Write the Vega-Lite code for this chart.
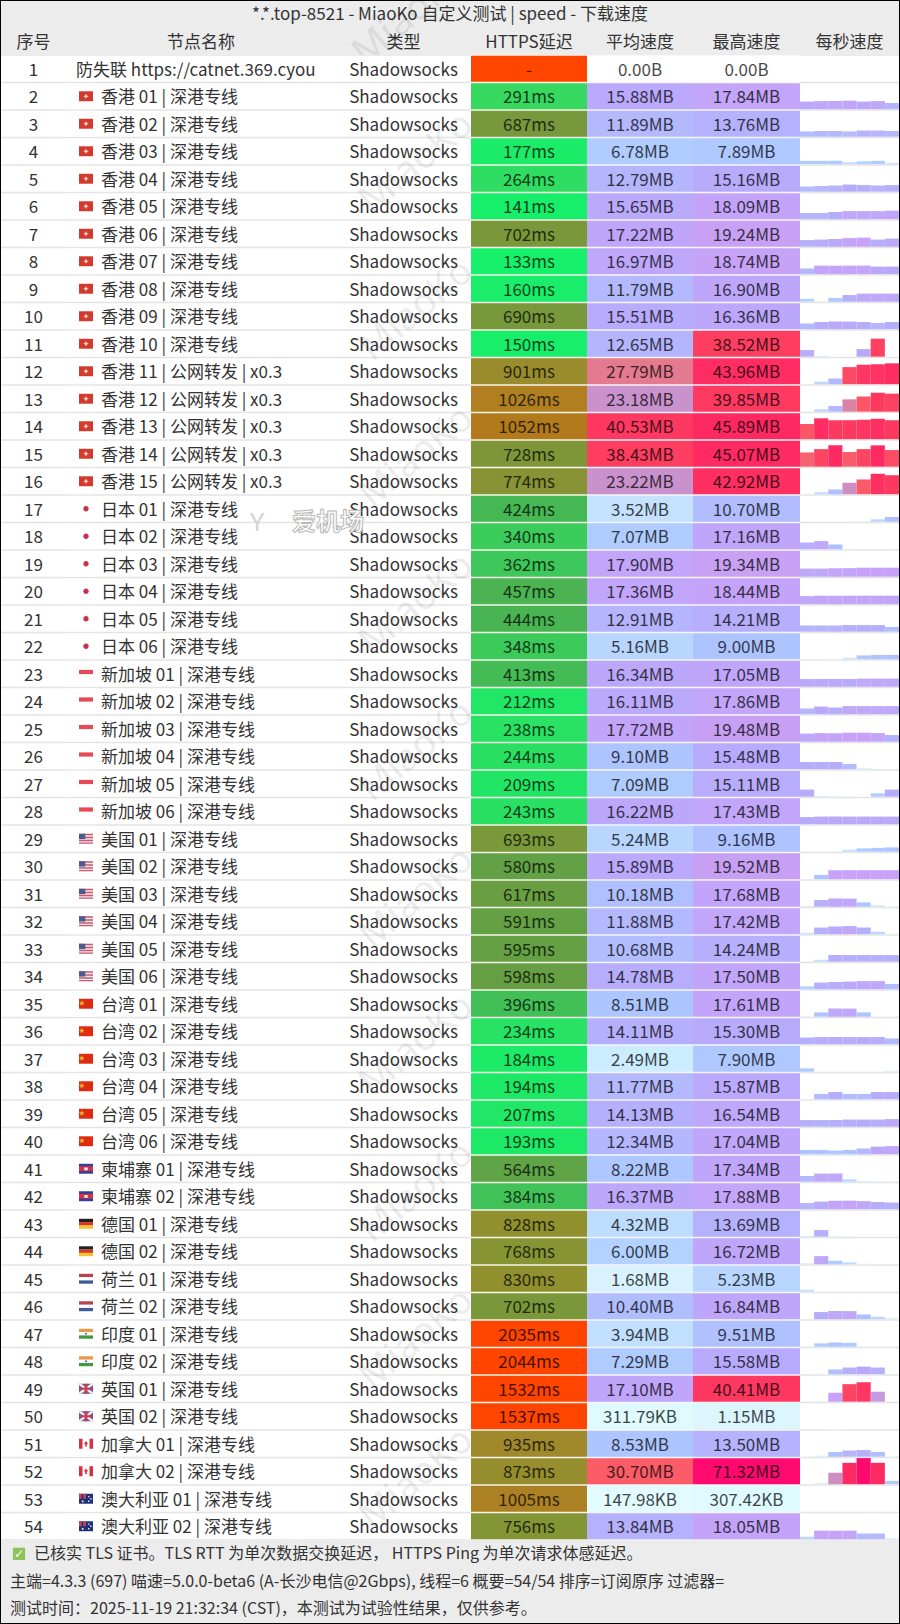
{
"$schema":"https://vega.github.io/schema/vega-lite/v6.json",
"background":"#000000",
"padding":1,
"spacing":0,
"config":{"font":"Noto Sans CJK SC","view":{"stroke":null},"concat":{"spacing":0},"text":{"fontSize":17,"color":"#333333"}},
"datasets":{
"rows":[
{"r":1,"n":"防失联 https://catnet.369.cyou","c":null,"ms":null,"a":0,"al":"0.00B","m":0,"ml":"0.00B"},
{"r":2,"n":"香港 01 | 深港专线","c":"hk","ms":291,"a":15.88,"al":"15.88MB","m":17.84,"ml":"17.84MB"},
{"r":3,"n":"香港 02 | 深港专线","c":"hk","ms":687,"a":11.89,"al":"11.89MB","m":13.76,"ml":"13.76MB"},
{"r":4,"n":"香港 03 | 深港专线","c":"hk","ms":177,"a":6.78,"al":"6.78MB","m":7.89,"ml":"7.89MB"},
{"r":5,"n":"香港 04 | 深港专线","c":"hk","ms":264,"a":12.79,"al":"12.79MB","m":15.16,"ml":"15.16MB"},
{"r":6,"n":"香港 05 | 深港专线","c":"hk","ms":141,"a":15.65,"al":"15.65MB","m":18.09,"ml":"18.09MB"},
{"r":7,"n":"香港 06 | 深港专线","c":"hk","ms":702,"a":17.22,"al":"17.22MB","m":19.24,"ml":"19.24MB"},
{"r":8,"n":"香港 07 | 深港专线","c":"hk","ms":133,"a":16.97,"al":"16.97MB","m":18.74,"ml":"18.74MB"},
{"r":9,"n":"香港 08 | 深港专线","c":"hk","ms":160,"a":11.79,"al":"11.79MB","m":16.9,"ml":"16.90MB"},
{"r":10,"n":"香港 09 | 深港专线","c":"hk","ms":690,"a":15.51,"al":"15.51MB","m":16.36,"ml":"16.36MB"},
{"r":11,"n":"香港 10 | 深港专线","c":"hk","ms":150,"a":12.65,"al":"12.65MB","m":38.52,"ml":"38.52MB"},
{"r":12,"n":"香港 11 | 公网转发 | x0.3","c":"hk","ms":901,"a":27.79,"al":"27.79MB","m":43.96,"ml":"43.96MB"},
{"r":13,"n":"香港 12 | 公网转发 | x0.3","c":"hk","ms":1026,"a":23.18,"al":"23.18MB","m":39.85,"ml":"39.85MB"},
{"r":14,"n":"香港 13 | 公网转发 | x0.3","c":"hk","ms":1052,"a":40.53,"al":"40.53MB","m":45.89,"ml":"45.89MB"},
{"r":15,"n":"香港 14 | 公网转发 | x0.3","c":"hk","ms":728,"a":38.43,"al":"38.43MB","m":45.07,"ml":"45.07MB"},
{"r":16,"n":"香港 15 | 公网转发 | x0.3","c":"hk","ms":774,"a":23.22,"al":"23.22MB","m":42.92,"ml":"42.92MB"},
{"r":17,"n":"日本 01 | 深港专线","c":"jp","ms":424,"a":3.52,"al":"3.52MB","m":10.7,"ml":"10.70MB"},
{"r":18,"n":"日本 02 | 深港专线","c":"jp","ms":340,"a":7.07,"al":"7.07MB","m":17.16,"ml":"17.16MB"},
{"r":19,"n":"日本 03 | 深港专线","c":"jp","ms":362,"a":17.9,"al":"17.90MB","m":19.34,"ml":"19.34MB"},
{"r":20,"n":"日本 04 | 深港专线","c":"jp","ms":457,"a":17.36,"al":"17.36MB","m":18.44,"ml":"18.44MB"},
{"r":21,"n":"日本 05 | 深港专线","c":"jp","ms":444,"a":12.91,"al":"12.91MB","m":14.21,"ml":"14.21MB"},
{"r":22,"n":"日本 06 | 深港专线","c":"jp","ms":348,"a":5.16,"al":"5.16MB","m":9,"ml":"9.00MB"},
{"r":23,"n":"新加坡 01 | 深港专线","c":"sg","ms":413,"a":16.34,"al":"16.34MB","m":17.05,"ml":"17.05MB"},
{"r":24,"n":"新加坡 02 | 深港专线","c":"sg","ms":212,"a":16.11,"al":"16.11MB","m":17.86,"ml":"17.86MB"},
{"r":25,"n":"新加坡 03 | 深港专线","c":"sg","ms":238,"a":17.72,"al":"17.72MB","m":19.48,"ml":"19.48MB"},
{"r":26,"n":"新加坡 04 | 深港专线","c":"sg","ms":244,"a":9.1,"al":"9.10MB","m":15.48,"ml":"15.48MB"},
{"r":27,"n":"新加坡 05 | 深港专线","c":"sg","ms":209,"a":7.09,"al":"7.09MB","m":15.11,"ml":"15.11MB"},
{"r":28,"n":"新加坡 06 | 深港专线","c":"sg","ms":243,"a":16.22,"al":"16.22MB","m":17.43,"ml":"17.43MB"},
{"r":29,"n":"美国 01 | 深港专线","c":"us","ms":693,"a":5.24,"al":"5.24MB","m":9.16,"ml":"9.16MB"},
{"r":30,"n":"美国 02 | 深港专线","c":"us","ms":580,"a":15.89,"al":"15.89MB","m":19.52,"ml":"19.52MB"},
{"r":31,"n":"美国 03 | 深港专线","c":"us","ms":617,"a":10.18,"al":"10.18MB","m":17.68,"ml":"17.68MB"},
{"r":32,"n":"美国 04 | 深港专线","c":"us","ms":591,"a":11.88,"al":"11.88MB","m":17.42,"ml":"17.42MB"},
{"r":33,"n":"美国 05 | 深港专线","c":"us","ms":595,"a":10.68,"al":"10.68MB","m":14.24,"ml":"14.24MB"},
{"r":34,"n":"美国 06 | 深港专线","c":"us","ms":598,"a":14.78,"al":"14.78MB","m":17.5,"ml":"17.50MB"},
{"r":35,"n":"台湾 01 | 深港专线","c":"tw","ms":396,"a":8.51,"al":"8.51MB","m":17.61,"ml":"17.61MB"},
{"r":36,"n":"台湾 02 | 深港专线","c":"tw","ms":234,"a":14.11,"al":"14.11MB","m":15.3,"ml":"15.30MB"},
{"r":37,"n":"台湾 03 | 深港专线","c":"tw","ms":184,"a":2.49,"al":"2.49MB","m":7.9,"ml":"7.90MB"},
{"r":38,"n":"台湾 04 | 深港专线","c":"tw","ms":194,"a":11.77,"al":"11.77MB","m":15.87,"ml":"15.87MB"},
{"r":39,"n":"台湾 05 | 深港专线","c":"tw","ms":207,"a":14.13,"al":"14.13MB","m":16.54,"ml":"16.54MB"},
{"r":40,"n":"台湾 06 | 深港专线","c":"tw","ms":193,"a":12.34,"al":"12.34MB","m":17.04,"ml":"17.04MB"},
{"r":41,"n":"柬埔寨 01 | 深港专线","c":"kh","ms":564,"a":8.22,"al":"8.22MB","m":17.34,"ml":"17.34MB"},
{"r":42,"n":"柬埔寨 02 | 深港专线","c":"kh","ms":384,"a":16.37,"al":"16.37MB","m":17.88,"ml":"17.88MB"},
{"r":43,"n":"德国 01 | 深港专线","c":"de","ms":828,"a":4.32,"al":"4.32MB","m":13.69,"ml":"13.69MB"},
{"r":44,"n":"德国 02 | 深港专线","c":"de","ms":768,"a":6,"al":"6.00MB","m":16.72,"ml":"16.72MB"},
{"r":45,"n":"荷兰 01 | 深港专线","c":"nl","ms":830,"a":1.68,"al":"1.68MB","m":5.23,"ml":"5.23MB"},
{"r":46,"n":"荷兰 02 | 深港专线","c":"nl","ms":702,"a":10.4,"al":"10.40MB","m":16.84,"ml":"16.84MB"},
{"r":47,"n":"印度 01 | 深港专线","c":"in","ms":2035,"a":3.94,"al":"3.94MB","m":9.51,"ml":"9.51MB"},
{"r":48,"n":"印度 02 | 深港专线","c":"in","ms":2044,"a":7.29,"al":"7.29MB","m":15.58,"ml":"15.58MB"},
{"r":49,"n":"英国 01 | 深港专线","c":"gb","ms":1532,"a":17.1,"al":"17.10MB","m":40.41,"ml":"40.41MB"},
{"r":50,"n":"英国 02 | 深港专线","c":"gb","ms":1537,"a":0.3,"al":"311.79KB","m":1.15,"ml":"1.15MB"},
{"r":51,"n":"加拿大 01 | 深港专线","c":"ca","ms":935,"a":8.53,"al":"8.53MB","m":13.5,"ml":"13.50MB"},
{"r":52,"n":"加拿大 02 | 深港专线","c":"ca","ms":873,"a":30.7,"al":"30.70MB","m":71.32,"ml":"71.32MB"},
{"r":53,"n":"澳大利亚 01 | 深港专线","c":"au","ms":1005,"a":0.14,"al":"147.98KB","m":0.3,"ml":"307.42KB"},
{"r":54,"n":"澳大利亚 02 | 深港专线","c":"au","ms":756,"a":13.84,"al":"13.84MB","m":18.05,"ml":"18.05MB"}
],
"flags":[
{"c":"hk","parts":["hkbase","hkstar"]},
{"c":"jp","parts":["jpdot"]},
{"c":"sg","parts":["sgtop"]},
{"c":"us","parts":["usbase","usstripes","uscanton"]},
{"c":"tw","parts":["cnbase","cnstar"]},
{"c":"kh","parts":["khbase","khred","khwhite"]},
{"c":"de","parts":["deblack","dered","deyellow"]},
{"c":"nl","parts":["nlred","nlblue"]},
{"c":"in","parts":["inorange","ingreen","inwheel"]},
{"c":"gb","parts":["gbbase","gbdiag","gbcross"]},
{"c":"ca","parts":["casides","caleaf"]},
{"c":"au","parts":["aubase","auunion","austars"]}
],
"bars":[
{"r":1,"t":1,"v":0},{"r":1,"t":2,"v":0},{"r":1,"t":3,"v":0},{"r":1,"t":4,"v":0},{"r":1,"t":5,"v":0},{"r":1,"t":6,"v":0},{"r":1,"t":7,"v":0},
{"r":2,"t":1,"v":16},{"r":2,"t":2,"v":17},{"r":2,"t":3,"v":17},{"r":2,"t":4,"v":18},{"r":2,"t":5,"v":16},{"r":2,"t":6,"v":17},{"r":2,"t":7,"v":13},
{"r":3,"t":1,"v":11},{"r":3,"t":2,"v":12},{"r":3,"t":3,"v":12},{"r":3,"t":4,"v":11},{"r":3,"t":5,"v":13},{"r":3,"t":6,"v":13},{"r":3,"t":7,"v":12},
{"r":4,"t":1,"v":7},{"r":4,"t":2,"v":7},{"r":4,"t":3,"v":7},{"r":4,"t":4,"v":4},{"r":4,"t":5,"v":6},{"r":4,"t":6,"v":7},{"r":4,"t":7,"v":3},
{"r":5,"t":1,"v":11},{"r":5,"t":2,"v":12},{"r":5,"t":3,"v":13},{"r":5,"t":4,"v":15},{"r":5,"t":5,"v":14},{"r":5,"t":6,"v":13},{"r":5,"t":7,"v":14},
{"r":6,"t":1,"v":13},{"r":6,"t":2,"v":13},{"r":6,"t":3,"v":15},{"r":6,"t":4,"v":17},{"r":6,"t":5,"v":17},{"r":6,"t":6,"v":17},{"r":6,"t":7,"v":18},
{"r":7,"t":1,"v":14},{"r":7,"t":2,"v":15},{"r":7,"t":3,"v":16},{"r":7,"t":4,"v":18},{"r":7,"t":5,"v":19},{"r":7,"t":6,"v":15},{"r":7,"t":7,"v":17},
{"r":8,"t":1,"v":12},{"r":8,"t":2,"v":18},{"r":8,"t":3,"v":18},{"r":8,"t":4,"v":18},{"r":8,"t":5,"v":18},{"r":8,"t":6,"v":16},{"r":8,"t":7,"v":16},
{"r":9,"t":1,"v":6},{"r":9,"t":2,"v":0.5},{"r":9,"t":3,"v":8},{"r":9,"t":4,"v":14},{"r":9,"t":5,"v":17},{"r":9,"t":6,"v":17},{"r":9,"t":7,"v":17},
{"r":10,"t":1,"v":12},{"r":10,"t":2,"v":15},{"r":10,"t":3,"v":16},{"r":10,"t":4,"v":16},{"r":10,"t":5,"v":15},{"r":10,"t":6,"v":13},{"r":10,"t":7,"v":15},
{"r":11,"t":1,"v":14},{"r":11,"t":2,"v":2},{"r":11,"t":3,"v":0.3},{"r":11,"t":4,"v":0.2},{"r":11,"t":5,"v":16},{"r":11,"t":6,"v":38},{"r":11,"t":7,"v":0},
{"r":12,"t":1,"v":0.5},{"r":12,"t":2,"v":5},{"r":12,"t":3,"v":12},{"r":12,"t":4,"v":36},{"r":12,"t":5,"v":41},{"r":12,"t":6,"v":42},{"r":12,"t":7,"v":44},
{"r":13,"t":1,"v":0.5},{"r":13,"t":2,"v":5},{"r":13,"t":3,"v":12},{"r":13,"t":4,"v":26},{"r":13,"t":5,"v":32},{"r":13,"t":6,"v":40},{"r":13,"t":7,"v":38},
{"r":14,"t":1,"v":32},{"r":14,"t":2,"v":44},{"r":14,"t":3,"v":40},{"r":14,"t":4,"v":40},{"r":14,"t":5,"v":41},{"r":14,"t":6,"v":43},{"r":14,"t":7,"v":40},
{"r":15,"t":1,"v":30},{"r":15,"t":2,"v":37},{"r":15,"t":3,"v":45},{"r":15,"t":4,"v":31},{"r":15,"t":5,"v":37},{"r":15,"t":6,"v":45},{"r":15,"t":7,"v":35},
{"r":16,"t":1,"v":0.5},{"r":16,"t":2,"v":4},{"r":16,"t":3,"v":10},{"r":16,"t":4,"v":24},{"r":16,"t":5,"v":31},{"r":16,"t":6,"v":43},{"r":16,"t":7,"v":40},
{"r":17,"t":1,"v":0},{"r":17,"t":2,"v":0},{"r":17,"t":3,"v":0},{"r":17,"t":4,"v":0.5},{"r":17,"t":5,"v":0.5},{"r":17,"t":6,"v":5},{"r":17,"t":7,"v":10},
{"r":18,"t":1,"v":14},{"r":18,"t":2,"v":17},{"r":18,"t":3,"v":10},{"r":18,"t":4,"v":0.5},{"r":18,"t":5,"v":0.2},{"r":18,"t":6,"v":0},{"r":18,"t":7,"v":0.5},
{"r":19,"t":1,"v":17},{"r":19,"t":2,"v":17},{"r":19,"t":3,"v":18},{"r":19,"t":4,"v":18},{"r":19,"t":5,"v":19},{"r":19,"t":6,"v":19},{"r":19,"t":7,"v":19},
{"r":20,"t":1,"v":17},{"r":20,"t":2,"v":18},{"r":20,"t":3,"v":18},{"r":20,"t":4,"v":18},{"r":20,"t":5,"v":18},{"r":20,"t":6,"v":18},{"r":20,"t":7,"v":18},
{"r":21,"t":1,"v":13},{"r":21,"t":2,"v":13},{"r":21,"t":3,"v":13},{"r":21,"t":4,"v":14},{"r":21,"t":5,"v":14},{"r":21,"t":6,"v":14},{"r":21,"t":7,"v":10},
{"r":22,"t":1,"v":0.2},{"r":22,"t":2,"v":0.3},{"r":22,"t":3,"v":0.5},{"r":22,"t":4,"v":3},{"r":22,"t":5,"v":8},{"r":22,"t":6,"v":9},{"r":22,"t":7,"v":9},
{"r":23,"t":1,"v":16},{"r":23,"t":2,"v":16},{"r":23,"t":3,"v":16},{"r":23,"t":4,"v":16},{"r":23,"t":5,"v":17},{"r":23,"t":6,"v":17},{"r":23,"t":7,"v":17},
{"r":24,"t":1,"v":12},{"r":24,"t":2,"v":16},{"r":24,"t":3,"v":14},{"r":24,"t":4,"v":17},{"r":24,"t":5,"v":17},{"r":24,"t":6,"v":17},{"r":24,"t":7,"v":17},
{"r":25,"t":1,"v":17},{"r":25,"t":2,"v":18},{"r":25,"t":3,"v":18},{"r":25,"t":4,"v":19},{"r":25,"t":5,"v":19},{"r":25,"t":6,"v":18},{"r":25,"t":7,"v":14},
{"r":26,"t":1,"v":15},{"r":26,"t":2,"v":15},{"r":26,"t":3,"v":15},{"r":26,"t":4,"v":11},{"r":26,"t":5,"v":2},{"r":26,"t":6,"v":0.2},{"r":26,"t":7,"v":0.2},
{"r":27,"t":1,"v":15},{"r":27,"t":2,"v":2},{"r":27,"t":3,"v":1},{"r":27,"t":4,"v":0.5},{"r":27,"t":5,"v":0.5},{"r":27,"t":6,"v":7},{"r":27,"t":7,"v":15},
{"r":28,"t":1,"v":15},{"r":28,"t":2,"v":16},{"r":28,"t":3,"v":16},{"r":28,"t":4,"v":16},{"r":28,"t":5,"v":16},{"r":28,"t":6,"v":16},{"r":28,"t":7,"v":16},
{"r":29,"t":1,"v":0},{"r":29,"t":2,"v":0},{"r":29,"t":3,"v":0.5},{"r":29,"t":4,"v":4},{"r":29,"t":5,"v":7},{"r":29,"t":6,"v":8},{"r":29,"t":7,"v":9},
{"r":30,"t":1,"v":0.3},{"r":30,"t":2,"v":9},{"r":30,"t":3,"v":19},{"r":30,"t":4,"v":19},{"r":30,"t":5,"v":19},{"r":30,"t":6,"v":19},{"r":30,"t":7,"v":19},
{"r":31,"t":1,"v":2},{"r":31,"t":2,"v":14},{"r":31,"t":3,"v":17},{"r":31,"t":4,"v":17},{"r":31,"t":5,"v":9},{"r":31,"t":6,"v":3},{"r":31,"t":7,"v":0.5},
{"r":32,"t":1,"v":3},{"r":32,"t":2,"v":14},{"r":32,"t":3,"v":16},{"r":32,"t":4,"v":17},{"r":32,"t":5,"v":14},{"r":32,"t":6,"v":5},{"r":32,"t":7,"v":1},
{"r":33,"t":1,"v":0.2},{"r":33,"t":2,"v":4},{"r":33,"t":3,"v":14},{"r":33,"t":4,"v":14},{"r":33,"t":5,"v":14},{"r":33,"t":6,"v":14},{"r":33,"t":7,"v":14},
{"r":34,"t":1,"v":6},{"r":34,"t":2,"v":14},{"r":34,"t":3,"v":15},{"r":34,"t":4,"v":16},{"r":34,"t":5,"v":17},{"r":34,"t":6,"v":17},{"r":34,"t":7,"v":11},
{"r":35,"t":1,"v":1},{"r":35,"t":2,"v":9},{"r":35,"t":3,"v":17},{"r":35,"t":4,"v":17},{"r":35,"t":5,"v":9},{"r":35,"t":6,"v":0.2},{"r":35,"t":7,"v":0.2},
{"r":36,"t":1,"v":14},{"r":36,"t":2,"v":15},{"r":36,"t":3,"v":15},{"r":36,"t":4,"v":15},{"r":36,"t":5,"v":15},{"r":36,"t":6,"v":15},{"r":36,"t":7,"v":12},
{"r":37,"t":1,"v":7},{"r":37,"t":2,"v":0.2},{"r":37,"t":3,"v":0.2},{"r":37,"t":4,"v":0.2},{"r":37,"t":5,"v":0.2},{"r":37,"t":6,"v":0.2},{"r":37,"t":7,"v":2},
{"r":38,"t":1,"v":0.5},{"r":38,"t":2,"v":11},{"r":38,"t":3,"v":15},{"r":38,"t":4,"v":11},{"r":38,"t":5,"v":11},{"r":38,"t":6,"v":15},{"r":38,"t":7,"v":15},
{"r":39,"t":1,"v":14},{"r":39,"t":2,"v":14},{"r":39,"t":3,"v":14},{"r":39,"t":4,"v":15},{"r":39,"t":5,"v":15},{"r":39,"t":6,"v":15},{"r":39,"t":7,"v":16},
{"r":40,"t":1,"v":9},{"r":40,"t":2,"v":9},{"r":40,"t":3,"v":8},{"r":40,"t":4,"v":9},{"r":40,"t":5,"v":12},{"r":40,"t":6,"v":16},{"r":40,"t":7,"v":17},
{"r":41,"t":1,"v":12},{"r":41,"t":2,"v":17},{"r":41,"t":3,"v":17},{"r":41,"t":4,"v":5},{"r":41,"t":5,"v":2},{"r":41,"t":6,"v":1},{"r":41,"t":7,"v":0.5},
{"r":42,"t":1,"v":13},{"r":42,"t":2,"v":16},{"r":42,"t":3,"v":18},{"r":42,"t":4,"v":18},{"r":42,"t":5,"v":17},{"r":42,"t":6,"v":15},{"r":42,"t":7,"v":14},
{"r":43,"t":1,"v":2},{"r":43,"t":2,"v":14},{"r":43,"t":3,"v":1},{"r":43,"t":4,"v":0.5},{"r":43,"t":5,"v":0.3},{"r":43,"t":6,"v":0.2},{"r":43,"t":7,"v":0.2},
{"r":44,"t":1,"v":2},{"r":44,"t":2,"v":17},{"r":44,"t":3,"v":7},{"r":44,"t":4,"v":4},{"r":44,"t":5,"v":1},{"r":44,"t":6,"v":0.5},{"r":44,"t":7,"v":0.3},
{"r":45,"t":1,"v":4},{"r":45,"t":2,"v":0.5},{"r":45,"t":3,"v":0.2},{"r":45,"t":4,"v":0.2},{"r":45,"t":5,"v":0.2},{"r":45,"t":6,"v":0.2},{"r":45,"t":7,"v":0.2},
{"r":46,"t":1,"v":0.2},{"r":46,"t":2,"v":15},{"r":46,"t":3,"v":17},{"r":46,"t":4,"v":17},{"r":46,"t":5,"v":10},{"r":46,"t":6,"v":5},{"r":46,"t":7,"v":2},
{"r":47,"t":1,"v":0.2},{"r":47,"t":2,"v":7},{"r":47,"t":3,"v":9},{"r":47,"t":4,"v":8},{"r":47,"t":5,"v":0.2},{"r":47,"t":6,"v":0.2},{"r":47,"t":7,"v":0.2},
{"r":48,"t":1,"v":0.2},{"r":48,"t":2,"v":0.5},{"r":48,"t":3,"v":10},{"r":48,"t":4,"v":14},{"r":48,"t":5,"v":16},{"r":48,"t":6,"v":14},{"r":48,"t":7,"v":0.2},
{"r":49,"t":1,"v":0.2},{"r":49,"t":2,"v":1},{"r":49,"t":3,"v":19},{"r":49,"t":4,"v":37},{"r":49,"t":5,"v":41},{"r":49,"t":6,"v":21},{"r":49,"t":7,"v":0.2},
{"r":50,"t":1,"v":0.3},{"r":50,"t":2,"v":0.3},{"r":50,"t":3,"v":0.3},{"r":50,"t":4,"v":0.3},{"r":50,"t":5,"v":0.3},{"r":50,"t":6,"v":0.3},{"r":50,"t":7,"v":0.3},
{"r":51,"t":1,"v":0.5},{"r":51,"t":2,"v":2},{"r":51,"t":3,"v":10},{"r":51,"t":4,"v":13},{"r":51,"t":5,"v":14},{"r":51,"t":6,"v":10},{"r":51,"t":7,"v":0.5},
{"r":52,"t":1,"v":0.2},{"r":52,"t":2,"v":2},{"r":52,"t":3,"v":24},{"r":52,"t":4,"v":45},{"r":52,"t":5,"v":71},{"r":52,"t":6,"v":45},{"r":52,"t":7,"v":7},
{"r":53,"t":1,"v":0},{"r":53,"t":2,"v":0},{"r":53,"t":3,"v":0},{"r":53,"t":4,"v":0},{"r":53,"t":5,"v":0},{"r":53,"t":6,"v":0},{"r":53,"t":7,"v":0},
{"r":54,"t":1,"v":5},{"r":54,"t":2,"v":18},{"r":54,"t":3,"v":18},{"r":54,"t":4,"v":18},{"r":54,"t":5,"v":12},{"r":54,"t":6,"v":12},{"r":54,"t":7,"v":2}
]
},
"vconcat":[
{"width":898,"height":27,"view":{"fill":"#ececec"},
"layer":[
{"data":{"values":[{"t":"*.*.top-8521 - MiaoKo 自定义测试 | speed - 下载速度"}]},"mark":{"type":"text","fontSize":17},"encoding":{"text":{"field":"t"}}},
{"data":{"values":[{"t":"MiaoKo"}]},"mark":{"type":"text","font":"Noto Sans","fontSize":38,"angle":320,"color":"#000000","opacity":0.07,"dx":-30,"dy":-25,"clip":true},"encoding":{"text":{"field":"t"}}}
]},
{"hconcat":[
{"width":65,"height":27,"view":{"fill":"#ececec"},"data":{"values":[{"t":"序号"}]},"mark":{"type":"text","fontSize":17,"dy":1},"encoding":{"text":{"field":"t"}}},
{"width":270,"height":27,"view":{"fill":"#ececec"},"data":{"values":[{"t":"节点名称"}]},"mark":{"type":"text","fontSize":17,"dy":1},"encoding":{"text":{"field":"t"}}},
{"width":135,"height":27,"view":{"fill":"#ececec"},
"layer":[
{"data":{"values":[{"t":"类型"}]},"mark":{"type":"text","fontSize":17,"dy":1},"encoding":{"text":{"field":"t"}}},
{"data":{"values":[{"t":"MiaoKo"}]},"mark":{"type":"text","font":"Noto Sans","fontSize":38,"angle":320,"color":"#000000","opacity":0.07,"dx":22,"dy":-16,"clip":true},"encoding":{"text":{"field":"t"}}}
]},
{"width":116,"height":27,"view":{"fill":"#ececec"},"data":{"values":[{"t":"HTTPS延迟"}]},"mark":{"type":"text","fontSize":17,"dy":1},"encoding":{"text":{"field":"t"}}},
{"width":106,"height":27,"view":{"fill":"#ececec"},"data":{"values":[{"t":"平均速度"}]},"mark":{"type":"text","fontSize":17,"dy":1},"encoding":{"text":{"field":"t"}}},
{"width":107,"height":27,"view":{"fill":"#ececec"},"data":{"values":[{"t":"最高速度"}]},"mark":{"type":"text","fontSize":17,"dy":1},"encoding":{"text":{"field":"t"}}},
{"width":99,"height":27,"view":{"fill":"#ececec"},"data":{"values":[{"t":"每秒速度"}]},"mark":{"type":"text","fontSize":17,"dy":1},"encoding":{"text":{"field":"t"}}}
],"spacing":0,"bounds":"flush"},
{"hconcat":[
{"width":65,"height":1485,"view":{"fill":"#e4e4e4"},"data":{"name":"rows"},
"encoding":{"y":{"field":"r","type":"ordinal","axis":null,"scale":{"paddingInner":0.05,"paddingOuter":0.025}}},
"layer":[
{"mark":{"type":"rect","color":"#ffffff"}},
{"mark":{"type":"text","fontSize":17,"dy":2},"encoding":{"text":{"field":"r","type":"ordinal"}}}
]},
{"width":30,"height":1485,"view":{"fill":"#e4e4e4"},"data":{"name":"rows"},
"encoding":{"y":{"field":"r","type":"ordinal","axis":null,"scale":{"paddingInner":0.05,"paddingOuter":0.025}}},
"layer":[
{"mark":{"type":"rect","color":"#ffffff"}},
{"transform":[
{"filter":"datum.c !== null"},
{"lookup":"c","from":{"data":{"name":"flags"},"key":"c","fields":["parts"]}},
{"flatten":["parts"]}
],
"mark":{"type":"point","filled":true,"size":196,"opacity":1,"strokeWidth":0,"xOffset":5},
"encoding":{
"shape":{"field":"parts","type":"nominal","legend":null,"scale":{
"domain":["hkbase","hkstar","jpdot","sgtop","usbase","usstripes","uscanton","cnbase","cnstar","khbase","khred","khwhite","deblack","dered","deyellow","nlred","nlblue","inorange","ingreen","inwheel","gbbase","gbdiag","gbcross","casides","caleaf","aubase","auunion","austars"],
"range":[
"M-1,-.71H1V.71H-1Z","M0,-.4L.12,-.1L.4,0L.12,.1L0,.4L-.12,.1L-.4,0L-.12,-.1Z",
"M-.38,0A.38,.38 0 1,1 .38,0A.38,.38 0 1,1 -.38,0Z",
"M-1,-.55H1V.05H-1Z",
"M-1,-.71H1V.71H-1Z","M-1,-.71H1V-.5H-1ZM-1,-.29H1V-.08H-1ZM-1,.13H1V.34H-1ZM-1,.55H1V.71H-1Z","M-1,-.71H-.1V.05H-1Z",
"M-1,-.71H1V.71H-1Z","M-.6,-.5L-.48,-.2L-.2,-.2L-.42,0L-.35,.25L-.6,.1L-.85,.25L-.78,0L-1,-.2L-.72,-.2Z",
"M-1,-.71H1V.71H-1Z","M-1,-.35H1V.35H-1Z","M-.25,-.18H.25V.22H-.25Z",
"M-1,-.71H1V-.237H-1Z","M-1,-.237H1V.237H-1Z","M-1,.237H1V.71H-1Z",
"M-1,-.71H1V-.237H-1Z","M-1,.237H1V.71H-1Z",
"M-1,-.71H1V-.237H-1Z","M-1,.237H1V.71H-1Z","M-.12,-.12H.12V.12H-.12Z",
"M-1,-.71H1V.71H-1Z","M-1,-.71L-.7,-.71L1,.5V.71H.7L-1,-.5ZM1,-.71V-.5L-.7,.71H-1V.5L.7,-.71Z","M-.2,-.71H.2V-.15H1V.15H.2V.71H-.2V.15H-1V-.15H-.2Z",
"M-1,-.71H-.5V.71H-1ZM.5,-.71H1V.71H.5Z","M0,-.4L.3,0L.12,.05V.4H-.12V.05L-.3,0Z",
"M-1,-.71H1V.71H-1Z","M-1,-.71H0V0H-1ZM-.6,-.71V0H-.4V-.71Z","M.3,-.4H.5V-.2H.3ZM.6,-.1H.8V.1H.6ZM.3,.25H.5V.45H.3ZM-.6,.25H-.35V.5H-.6Z"
]}},
"color":{"field":"parts","type":"nominal","legend":null,"scale":{
"domain":["hkbase","hkstar","jpdot","sgtop","usbase","usstripes","uscanton","cnbase","cnstar","khbase","khred","khwhite","deblack","dered","deyellow","nlred","nlblue","inorange","ingreen","inwheel","gbbase","gbdiag","gbcross","casides","caleaf","aubase","auunion","austars"],
"range":["#d23a2e","#f8e2d0","#c8324a","#e84a55","#f3e8ea","#c55a70","#4b5a90","#dd2c12","#f7b52c","#2f3f9c","#d53046","#eeeeee","#222222","#d8342a","#f5c32c","#b8424e","#3f5c98","#f0964a","#3f9a3f","#3a4a9a","#5c5c92","#eeeeee","#cf3b55","#d83040","#d83040","#1f2f7a","#c04060","#eeeeee"]
}}
}}
]},
{"width":240,"height":1485,"view":{"fill":"#e4e4e4"},"data":{"name":"rows"},
"encoding":{"y":{"field":"r","type":"ordinal","axis":null,"scale":{"paddingInner":0.05,"paddingOuter":0.025}}},
"layer":[
{"mark":{"type":"rect","color":"#ffffff"}},
{"transform":[{"filter":"datum.r > 1"}],"mark":{"type":"text","fontSize":17,"align":"left","dx":5,"dy":2},"encoding":{"x":{"datum":0,"type":"quantitative","axis":null,"scale":{"domain":[0,1]}},"text":{"field":"n"}}},
{"transform":[{"filter":"datum.r === 1"}],"mark":{"type":"text","fontSize":17,"align":"left","dx":-20,"dy":2},"encoding":{"x":{"datum":0,"type":"quantitative","axis":null,"scale":{"domain":[0,1]}},"text":{"field":"n"}}}
]},
{"width":135,"height":1485,"view":{"fill":"#e4e4e4"},"data":{"name":"rows"},
"encoding":{"y":{"field":"r","type":"ordinal","axis":null,"scale":{"paddingInner":0.05,"paddingOuter":0.025}}},
"layer":[
{"mark":{"type":"rect","color":"#ffffff"}},
{"mark":{"type":"text","fontSize":17,"dy":2},"encoding":{"text":{"value":"Shadowsocks"}}}
]},
{"width":116,"height":1485,"view":{"fill":"#f6f6ea"},
"layer":[
{"data":{"name":"rows"},"transform":[{"calculate":"datum.ms === null ? '-' : datum.ms + 'ms'","as":"lbl"}],
"encoding":{"y":{"field":"r","type":"ordinal","axis":null,"scale":{"paddingInner":0.05,"paddingOuter":0.025}}},
"layer":[
{"mark":{"type":"rect","invalid":"show"},"encoding":{"color":{"condition":{"test":"datum.ms === null","value":"#ff4500"},"field":"ms","type":"quantitative","legend":null,"scale":{"clamp":true,"interpolate":"rgb","domain":[100,133,200,291,424,590,700,830,930,1026,1052,1250,1500],"range":["#14f56e","#16f06b","#1fe866","#36d860","#45b854","#64a044","#7a983a","#90902f","#9e8a2c","#b07f20","#b37a1c","#d8601a","#ff4500"]}}}},
{"mark":{"type":"text","fontSize":17,"color":"#000000","opacity":0.72,"dy":2},"encoding":{"text":{"field":"lbl"}}}
]},
{"data":{"values":[{"k":1},{"k":2},{"k":3},{"k":4},{"k":5},{"k":6},{"k":7},{"k":8},{"k":9},{"k":9.95}]},
"mark":{"type":"text","font":"Noto Sans","fontSize":38,"angle":320,"color":"#000000","opacity":0.07,"dx":-86,"dy":-72},
"encoding":{"y":{"field":"k","type":"quantitative","axis":null,"scale":{"domain":[0.265,10.367],"reverse":true,"zero":false,"nice":false}},"text":{"value":"MiaoKo"}}},
{"data":{"values":[{"k":3.45}]},
"layer":[
{"mark":{"type":"text","fontSize":24,"fontWeight":"bold","color":"#ffffff","stroke":"#b8b8b8","strokeWidth":1,"dx":-201},
"encoding":{"y":{"field":"k","type":"quantitative","axis":null,"scale":{"domain":[0.265,10.367],"reverse":true,"zero":false,"nice":false}},"text":{"value":"爱机场"}}},
{"mark":{"type":"text","font":"Noto Sans","fontSize":26,"color":"#d4d4d4","dx":-272},
"encoding":{"y":{"field":"k","type":"quantitative","axis":null,"scale":{"domain":[0.265,10.367],"reverse":true,"zero":false,"nice":false}},"text":{"value":"Y"}}}
]}
],"resolve":{"scale":{"y":"independent"}}},
{"width":106,"height":1485,"view":{"fill":"#f6f6fa"},"data":{"name":"rows"},
"encoding":{"y":{"field":"r","type":"ordinal","axis":null,"scale":{"paddingInner":0.05,"paddingOuter":0.025}}},
"layer":[
{"mark":"rect","encoding":{"color":{"field":"a","type":"quantitative","legend":null,"scale":{"clamp":true,"interpolate":"rgb","domain":[0,0.15,1.7,2.5,3.5,5.2,7,9,12,15.5,19,23.2,27.8,30.7,38.5,45,71],"range":["#ffffff","#e0fcff","#d8f2ff","#ccecff","#c4e2fe","#b8d6ff","#b0ccff","#aec4ff","#b4b8fd","#b8aafc","#c8a2f8","#c992cc","#e47a90","#fb5c68","#fe3e60","#ff2a62","#ff0a6e"]}}}},
{"mark":{"type":"text","fontSize":17,"color":"#000000","opacity":0.72,"dy":2},"encoding":{"text":{"field":"al"}}}
]},
{"width":107,"height":1485,"view":{"fill":"#f6f6fa"},"data":{"name":"rows"},
"encoding":{"y":{"field":"r","type":"ordinal","axis":null,"scale":{"paddingInner":0.05,"paddingOuter":0.025}}},
"layer":[
{"mark":"rect","encoding":{"color":{"field":"m","type":"quantitative","legend":null,"scale":{"clamp":true,"interpolate":"rgb","domain":[0,0.15,1.7,2.5,3.5,5.2,7,9,12,15.5,19,23.2,27.8,30.7,38.5,45,71],"range":["#ffffff","#e0fcff","#d8f2ff","#ccecff","#c4e2fe","#b8d6ff","#b0ccff","#aec4ff","#b4b8fd","#b8aafc","#c8a2f8","#c992cc","#e47a90","#fb5c68","#fe3e60","#ff2a62","#ff0a6e"]}}}},
{"mark":{"type":"text","fontSize":17,"color":"#000000","opacity":0.72,"dy":2},"encoding":{"text":{"field":"ml"}}}
]},
{"width":99,"height":1485,"view":{"fill":"#e4e4e4"},
"layer":[
{"data":{"name":"rows"},"mark":{"type":"rect","color":"#ffffff"},"encoding":{"y":{"field":"r","type":"ordinal","axis":null,"scale":{"paddingInner":0.05,"paddingOuter":0.025}}}},
{"data":{"name":"bars"},
"transform":[{"calculate":"datum.r - 0.03","as":"base"},{"calculate":"datum.base - min(datum.v, 55) / 58","as":"top"}],
"mark":{"type":"rect"},
"encoding":{
"x":{"field":"t","type":"ordinal","axis":null,"scale":{"paddingInner":0,"paddingOuter":0}},
"y":{"field":"base","type":"quantitative","axis":null,"scale":{"domain":[0,54],"reverse":true,"nice":false,"zero":false}},
"y2":{"field":"top"},
"color":{"field":"v","type":"quantitative","legend":null,"scale":{"clamp":true,"interpolate":"rgb","domain":[0,0.15,1.7,2.5,3.5,5.2,7,9,12,15.5,19,23.2,27.8,30.7,38.5,45,71],"range":["#ffffff","#e0fcff","#d8f2ff","#ccecff","#c4e2fe","#b8d6ff","#b0ccff","#aec4ff","#b4b8fd","#b8aafc","#c8a2f8","#c992cc","#e47a90","#fb5c68","#fe3e60","#ff2a62","#ff0a6e"]}}
}}
],"resolve":{"scale":{"y":"independent"}}}
],"spacing":0,"bounds":"flush"},
{"width":898,"height":83,"view":{"fill":"#ececec"},
"data":{"values":[
{"line":1,"t":"已核实 TLS 证书。TLS RTT 为单次数据交换延迟， HTTPS Ping 为单次请求体感延迟。"},
{"line":2,"t":"主端=4.3.3 (697) 喵速=5.0.0-beta6 (A-长沙电信@2Gbps), 线程=6 概要=54/54 排序=订阅原序 过滤器="},
{"line":3,"t":"测试时间：2025-11-19 21:32:34 (CST)，本测试为试验性结果，仅供参考。"}
]},
"encoding":{"y":{"field":"line","type":"ordinal","axis":null},
"x":{"datum":0,"type":"quantitative","axis":null,"scale":{"domain":[0,1]}}},
"layer":[
{"transform":[{"filter":"datum.line === 1"}],"mark":{"type":"point","shape":"square","filled":true,"size":150,"color":"#8cc45a","opacity":1,"xOffset":18}},
{"transform":[{"filter":"datum.line === 1"}],"mark":{"type":"text","font":"DejaVu Sans","fontSize":12,"color":"#ffffff","dx":18},"encoding":{"text":{"value":"✓"}}},
{"transform":[{"filter":"datum.line === 1"}],"mark":{"type":"text","fontSize":16,"align":"left","dx":33},"encoding":{"text":{"field":"t"}}},
{"transform":[{"filter":"datum.line > 1"}],"mark":{"type":"text","fontSize":16,"align":"left","dx":9},"encoding":{"text":{"field":"t"}}}
]}
]
}
